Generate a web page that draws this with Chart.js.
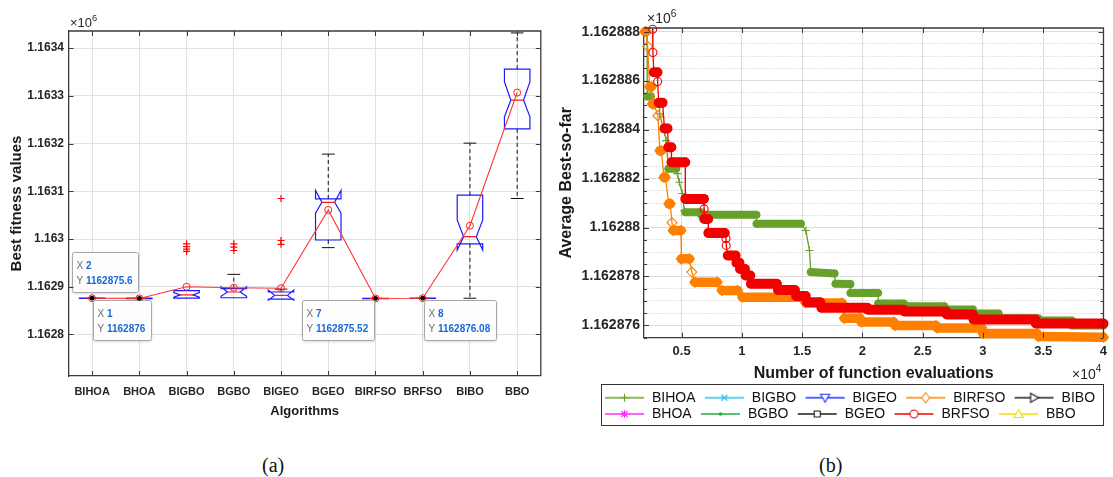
<!DOCTYPE html>
<html>
<head>
<meta charset="utf-8">
<title>Boxplot and convergence</title>
<script src="https://cdn.jsdelivr.net/npm/chart.js@4.4.1/dist/chart.umd.min.js"></script>
<style>
  html, body { margin: 0; padding: 0; background: #fff; }
  body { width: 1113px; height: 477px; position: relative; overflow: hidden; }
  .panel { position: absolute; top: 0; }
  #boxWrap { left: 0; width: 546px; height: 422px; }
  #convWrap { left: 555px; width: 558px; height: 431px; }
  .caption { position: absolute; top: 454px; line-height: 20px; font: 20px "Liberation Serif", "Times New Roman", serif; color: #111; }
</style>
</head>
<body>
<div class="panel" id="boxWrap"><canvas id="boxChart"></canvas></div>
<div class="panel" id="convWrap"><canvas id="convChart"></canvas></div>
<div class="caption" style="left:262px">(a)</div>
<div class="caption" style="left:819px">(b)</div>
<script>
const FONT = '"Liberation Sans", Arial, Helvetica, sans-serif';
Chart.defaults.font.family = FONT;
Chart.defaults.color = '#262626';
Chart.defaults.animation = false;

// ---------- panel (a): best fitness per algorithm ----------
const algorithms = ['BIHOA', 'BHOA', 'BIGBO', 'BGBO', 'BIGEO', 'BGEO', 'BIRFSO', 'BRFSO', 'BIBO', 'BBO'];
const boxQ1       = [1162875.5, 1162875.2, 1162876, 1162877, 1162874, 1162998, 1162875.2, 1162875.8, 1162990, 1163231];
const boxMedian   = [1162876, 1162875.6, 1162883, 1162889, 1162882, 1163077, 1162875.5, 1162876.1, 1163005, 1163291];
const boxQ3       = [1162876.5, 1162876, 1162892, 1162896, 1162889, 1163084, 1162875.8, 1162876.4, 1163092, 1163356];
const notchLow    = [1162876, 1162875.6, 1162878, 1162880, 1162872, 1163054, 1162875.5, 1162876.1, 1162977, 1163256];
const notchHigh   = [1162876, 1162875.6, 1162888, 1162900, 1162893, 1163102, 1162875.5, 1162876.1, 1163040, 1163330];
const whiskerLow  = [1162875.5, 1162875.2, 1162876, 1162876, 1162874, 1162982, 1162875.2, 1162875.8, 1162876, 1163085];
const whiskerHigh = [1162876.5, 1162876, 1162892, 1162926, 1162895, 1163178, 1162875.8, 1162876.4, 1163201, 1163432];
const meanFitness = [1162876, 1162875.6, 1162900, 1162898, 1162897, 1163061, 1162875.52, 1162876.08, 1163028, 1163307];
const outlierAlgorithms = ['BIGBO', 'BIGBO', 'BIGBO', 'BIGBO', 'BGBO', 'BGBO', 'BGBO', 'BIGEO', 'BIGEO', 'BIGEO'];
const outlierFitness = [1162990, 1162984, 1162979, 1162974, 1162990, 1162983, 1162976, 1163085, 1162997, 1162989];
const fitnessTicks = [1162800, 1162900, 1163000, 1163100, 1163200, 1163300, 1163400];
const tipAlgorithms = ['BIHOA', 'BHOA', 'BIRFSO', 'BRFSO'];
const tipFitness = [1162876, 1162875.6, 1162875.52, 1162876.08];
const tipPlacement = ['se', 'nw', 'sw', 'se'];

// ---------- panel (b): average best-so-far ----------
const bihoaEvals = [2130, 2150, 2450, 3170, 3170, 3580, 3720, 3900, 4550, 4650, 4810, 5060, 5220, 5300, 6600, 6620, 11200, 11220, 14900, 15310, 15610, 15720, 17690, 17770, 19000, 19010, 21300, 21310, 23430, 23440, 26800, 26810, 29170, 29180, 31300, 31310, 34590, 34600, 37380, 37390, 40000];
const bihoaBest = [1162888.0, 1162885.35, 1162885.35, 1162884.9, 1162884.65, 1162883.9, 1162883.55, 1162882.4, 1162882.4, 1162882.2, 1162881.85, 1162881.39, 1162880.69, 1162880.62, 1162880.62, 1162880.52, 1162880.52, 1162880.15, 1162880.15, 1162879.88, 1162879.06, 1162878.18, 1162878.12, 1162877.7, 1162877.69, 1162877.33, 1162877.33, 1162876.9, 1162876.9, 1162876.78, 1162876.78, 1162876.65, 1162876.65, 1162876.49, 1162876.49, 1162876.29, 1162876.29, 1162876.2, 1162876.2, 1162876.0, 1162876.0];
const birfsoEvals = [1960, 2060, 2180, 2350, 2500, 2580, 2700, 3030, 3200, 3330, 3530, 3650, 3940, 4060, 4200, 4300, 4950, 4980, 5650, 5850, 6100, 7950, 8350, 9650, 10050, 14900, 15300, 18300, 18500, 19800, 19900, 22600, 22700, 26100, 26200, 29900, 30000, 34500, 34600, 40000];
const birfsoBest = [1162888.0, 1162888.0, 1162887.4, 1162885.75, 1162885.75, 1162885.05, 1162885.05, 1162884.57, 1162883.14, 1162883.14, 1162882.05, 1162882.05, 1162880.97, 1162880.97, 1162880.2, 1162879.88, 1162879.88, 1162878.72, 1162878.72, 1162878.18, 1162877.77, 1162877.77, 1162877.43, 1162877.43, 1162877.15, 1162877.15, 1162876.92, 1162876.92, 1162876.29, 1162876.29, 1162876.14, 1162876.14, 1162876.0, 1162876.0, 1162875.9, 1162875.9, 1162875.67, 1162875.67, 1162875.55, 1162875.52];
const brfsoEvals = [2596, 2620, 2700, 3000, 3010, 3100, 3420, 3580, 3830, 3900, 4150, 4160, 5300, 5310, 6850, 6870, 6880, 7200, 7220, 8580, 8680, 8700, 8830, 9480, 9550, 9800, 9850, 10250, 10300, 10700, 10750, 12900, 13000, 14400, 14500, 15300, 15400, 16500, 16600, 20400, 20450, 23430, 23480, 26960, 27000, 29170, 29220, 34340, 34390, 40000];
const brfsoBest = [1162888.1, 1162887.15, 1162886.34, 1162886.34, 1162885.96, 1162885.1, 1162885.1, 1162884.05, 1162884.05, 1162883.28, 1162883.28, 1162882.67, 1162882.67, 1162881.17, 1162881.17, 1162880.76, 1162880.35, 1162880.35, 1162879.78, 1162879.78, 1162879.55, 1162879.27, 1162878.86, 1162878.86, 1162878.56, 1162878.56, 1162878.31, 1162878.31, 1162878.04, 1162878.04, 1162877.7, 1162877.7, 1162877.45, 1162877.45, 1162877.2, 1162877.2, 1162876.95, 1162876.95, 1162876.72, 1162876.72, 1162876.64, 1162876.64, 1162876.57, 1162876.57, 1162876.45, 1162876.45, 1162876.24, 1162876.24, 1162876.08, 1162876.08];
const evalTicks = [5000, 10000, 15000, 20000, 25000, 30000, 35000, 40000];
const bestTicks = [1162876, 1162878, 1162880, 1162882, 1162884, 1162886, 1162888];
const bestMinorStep = 0.5;

// legend order is row by row, like the two-row legend box
const legendOrder = ['BIHOA', 'BIGBO', 'BIGEO', 'BIRFSO', 'BIBO', 'BHOA', 'BGBO', 'BGEO', 'BRFSO', 'BBO'];
// the other seven curves sit above this zoomed window, so only their legend entries show
const seriesData = {
  BIHOA: [bihoaEvals, bihoaBest],
  BIRFSO: [birfsoEvals, birfsoBest],
  BRFSO: [brfsoEvals, brfsoBest]
};
const seriesStyle = {
  BIHOA:  { color: '#66a12a', marker: '+', band: 8, order: 2 },
  BIGBO:  { color: '#2cbde9', marker: 'x' },
  BIGEO:  { color: '#1c2cff', marker: 'v' },
  BIRFSO: { color: '#ff8000', marker: 'd', band: 9.5, order: 1 },
  BIBO:   { color: '#1e1e1e', marker: '>' },
  BHOA:   { color: '#ff2bff', marker: '*' },
  BGBO:   { color: '#1fae3c', marker: '.' },
  BGEO:   { color: '#1e1e1e', marker: 's' },
  BRFSO:  { color: '#f20000', marker: 'o', band: 10, order: 0 },
  BBO:    { color: '#f0e000', marker: '^' }
};

function drawPower(ctx, base, exp, x, y, size, align) {
  ctx.save();
  ctx.fillStyle = '#262626';
  ctx.textBaseline = 'alphabetic';
  ctx.textAlign = 'left';
  const big = size + 'px ' + FONT, small = (size * 0.72).toFixed(1) + 'px ' + FONT;
  ctx.font = big;
  const w1 = ctx.measureText(base).width;
  ctx.font = small;
  const w2 = ctx.measureText(exp).width;
  const x0 = align === 'right' ? x - w1 - w2 : x;
  ctx.font = big;
  ctx.fillText(base, x0, y);
  ctx.font = small;
  ctx.fillText(exp, x0 + w1, y - size * 0.45);
  ctx.restore();
}

// closed axes box with inward ticks, MATLAB style
function frameFor(opts) {
  return {
    id: 'frame',
    afterDraw(chart) {
      const { ctx, chartArea: a, scales: { x, y } } = chart;
      ctx.save();
      ctx.strokeStyle = '#3a3a3a';
      ctx.lineWidth = 1.3;
      ctx.beginPath();
      ctx.moveTo(a.left, a.top); ctx.lineTo(a.right, a.top); ctx.lineTo(a.right, a.bottom);
      ctx.stroke();
      ctx.lineWidth = 1;
      ctx.beginPath();
      x.ticks.forEach((t, i) => {
        const px = Math.round(x.getPixelForTick(i)) + 0.5;
        ctx.moveTo(px, a.top); ctx.lineTo(px, a.top + opts.tick);
        ctx.moveTo(px, a.bottom); ctx.lineTo(px, a.bottom - opts.tick);
      });
      y.ticks.forEach((t, i) => {
        const py = Math.round(y.getPixelForTick(i)) + 0.5;
        const len = t.minorTick ? opts.minor : opts.tick;
        ctx.moveTo(a.left, py); ctx.lineTo(a.left + len, py);
        ctx.moveTo(a.right, py); ctx.lineTo(a.right - len, py);
      });
      ctx.stroke();
      ctx.restore();
      opts.powers.forEach(p => {
        const px = p.side === 'right' ? a.right + p.dx : a.left + p.dx;
        const py = p.edge === 'bottom' ? a.bottom + p.dy : a.top + p.dy;
        drawPower(ctx, '\u00d710', p.exp, px, py, p.size, p.side);
      });
    }
  };
}

// notched boxes and whiskers, placed through the chart scales
const boxPlugin = {
  id: 'notchedBoxes',
  beforeDatasetsDraw(chart) {
    const { ctx, chartArea: a, scales: { x, y } } = chart;
    const step = x.getPixelForValue(1) - x.getPixelForValue(0);
    const half = step * 0.27, inset = half * 0.5, cap = half * 0.5;
    const py = v => y.getPixelForValue(v);
    ctx.save();
    ctx.beginPath(); ctx.rect(a.left, a.top, a.right - a.left, a.bottom - a.top); ctx.clip();
    algorithms.forEach((name, i) => {
      const cx = x.getPixelForValue(i);
      ctx.strokeStyle = '#111';
      ctx.lineWidth = 1;
      ctx.setLineDash([4, 3]);
      ctx.beginPath();
      if (whiskerHigh[i] > boxQ3[i]) { ctx.moveTo(cx, py(boxQ3[i])); ctx.lineTo(cx, py(whiskerHigh[i])); }
      if (whiskerLow[i] < boxQ1[i]) { ctx.moveTo(cx, py(boxQ1[i])); ctx.lineTo(cx, py(whiskerLow[i])); }
      ctx.stroke();
      ctx.setLineDash([]);
      ctx.beginPath();
      if (whiskerHigh[i] > boxQ3[i] + 1) { ctx.moveTo(cx - cap, py(whiskerHigh[i])); ctx.lineTo(cx + cap, py(whiskerHigh[i])); }
      if (whiskerLow[i] < boxQ1[i] - 1) { ctx.moveTo(cx - cap, py(whiskerLow[i])); ctx.lineTo(cx + cap, py(whiskerLow[i])); }
      ctx.stroke();

      const L = cx - half, R = cx + half;
      ctx.strokeStyle = '#1a1aff';
      ctx.lineWidth = 1.2;
      ctx.beginPath();
      ctx.moveTo(L, py(boxQ1[i]));
      ctx.lineTo(L, py(notchLow[i]));
      ctx.lineTo(L + inset, py(boxMedian[i]));
      ctx.lineTo(L, py(notchHigh[i]));
      ctx.lineTo(L, py(boxQ3[i]));
      ctx.lineTo(R, py(boxQ3[i]));
      ctx.lineTo(R, py(notchHigh[i]));
      ctx.lineTo(R - inset, py(boxMedian[i]));
      ctx.lineTo(R, py(notchLow[i]));
      ctx.lineTo(R, py(boxQ1[i]));
      ctx.closePath();
      ctx.stroke();

      ctx.strokeStyle = '#ff1a1a';
      ctx.beginPath();
      ctx.moveTo(L + inset, py(boxMedian[i])); ctx.lineTo(R - inset, py(boxMedian[i]));
      ctx.stroke();
    });
    ctx.restore();
  }
};

const tipPlugin = {
  id: 'dataTips',
  afterDatasetsDraw(chart) {
    const { ctx, scales: { x, y } } = chart;
    const normal = '10px ' + FONT, bold = 'bold 10px ' + FONT;
    ctx.save();
    tipAlgorithms.forEach((name, k) => {
      const idx = algorithms.indexOf(name);
      const px = x.getPixelForValue(idx), py = y.getPixelForValue(tipFitness[k]);
      ctx.fillStyle = '#000';
      ctx.beginPath(); ctx.arc(px, py, 2.4, 0, Math.PI * 2); ctx.fill();
      const rows = [['X', String(idx + 1)], ['Y', String(tipFitness[k])]];
      ctx.font = normal;
      const keyW = ctx.measureText('X ').width;
      ctx.font = bold;
      const valW = Math.max(...rows.map(r => ctx.measureText(r[1]).width));
      const w = Math.round(4 + keyW + valW + 6), h = 40;
      const place = tipPlacement[k];
      const bx = Math.round(place.includes('e') ? px + 1 : px - 1 - w) + 0.5;
      const by = Math.round(place.includes('s') ? py + 2 : py - 6 - h) + 0.5;
      ctx.shadowColor = 'rgba(0,0,0,0.2)'; ctx.shadowBlur = 3; ctx.shadowOffsetY = 1;
      ctx.fillStyle = 'rgba(255,255,255,0.96)';
      ctx.beginPath(); ctx.roundRect(bx, by, w, h, 2); ctx.fill();
      ctx.shadowColor = 'transparent';
      ctx.strokeStyle = '#a8a8a8'; ctx.lineWidth = 1;
      ctx.stroke();
      ctx.textBaseline = 'middle';
      rows.forEach((r, j) => {
        const ty = by + 13.5 + j * 15.5;
        ctx.font = normal; ctx.fillStyle = '#6e6e6e';
        ctx.fillText(r[0], bx + 4, ty);
        ctx.font = bold; ctx.fillStyle = '#1769d8';
        ctx.fillText(r[1], bx + 4 + keyW, ty);
      });
    });
    ctx.restore();
  }
};

new Chart(document.getElementById('boxChart'), {
  type: 'line',
  data: {
    labels: algorithms,
    datasets: [
      {
        label: 'Mean',
        data: meanFitness,
        borderColor: '#ff3434',
        borderWidth: 1.1,
        pointStyle: 'circle',
        pointRadius: 3.5,
        pointBorderColor: '#ff2020',
        pointBackgroundColor: 'rgba(255,255,255,0)',
        pointBorderWidth: 1,
        order: 1
      },
      {
        label: 'Outliers',
        data: outlierAlgorithms.map((a, k) => ({ x: a, y: outlierFitness[k] })),
        showLine: false,
        pointStyle: 'cross',
        pointRadius: 3.5,
        pointBorderColor: '#ff0000',
        pointBorderWidth: 1.2,
        order: 0
      }
    ]
  },
  options: {
    responsive: true,
    maintainAspectRatio: false,
    events: [],
    layout: { padding: { top: 31, right: 2.5, bottom: 0, left: 0 } },
    plugins: { legend: { display: false }, tooltip: { enabled: false } },
    scales: {
      x: {
        type: 'category',
        offset: true,
        grid: { color: '#e1e1e1', offset: false, drawTicks: false },
        border: { color: '#3a3a3a', width: 1.3 },
        ticks: { font: { size: 11, weight: 'bold' }, padding: 9.1, autoSkip: false, maxRotation: 0 },
        title: { display: true, text: 'Algorithms', color: '#1a1a1a', font: { size: 13, weight: 'bold' }, padding: { top: 0, bottom: 2.5 } },
        afterFit: s => { s.height = 46; }
      },
      y: {
        min: 1162713,
        max: 1163436,
        afterBuildTicks: s => { s.ticks = fitnessTicks.map(v => ({ value: v })); },
        grid: { color: '#e1e1e1', drawTicks: false },
        border: { color: '#3a3a3a', width: 1.3 },
        ticks: { font: { size: 12, weight: 'bold' }, padding: 4.5, callback: v => String(parseFloat((v / 1e6).toFixed(4))) },
        title: { display: true, text: 'Best fitness values', color: '#1a1a1a', font: { size: 15, weight: 'bold' }, padding: { top: 8, bottom: 0 } },
        afterFit: s => { s.width = 68.5; }
      }
    }
  },
  plugins: [boxPlugin, tipPlugin, frameFor({ tick: 5, minor: 5, powers: [{ exp: '6', side: 'left', edge: 'top', dx: 1.5, dy: -4, size: 13 }] })]
});

// legend icon: short line with the series marker in the middle
function legendIcon(color, marker) {
  const c = document.createElement('canvas');
  c.width = 47; c.height = 14;
  const g = c.getContext('2d');
  g.strokeStyle = color; g.lineWidth = 1.3;
  g.beginPath(); g.moveTo(7, 7); g.lineTo(46, 7); g.stroke();
  const cx = 26.5, cy = 7, r = 4;
  g.fillStyle = '#fff';
  g.lineWidth = 1.1;
  g.beginPath();
  if (marker === '.') {
    g.fillStyle = color; g.arc(cx, cy, 1.8, 0, Math.PI * 2); g.fill();
    return c;
  }
  if (marker === '+' || marker === '*') { g.moveTo(cx - r, cy); g.lineTo(cx + r, cy); g.moveTo(cx, cy - r); g.lineTo(cx, cy + r); }
  if (marker === 'x' || marker === '*') { const d = r * 0.75; g.moveTo(cx - d, cy - d); g.lineTo(cx + d, cy + d); g.moveTo(cx + d, cy - d); g.lineTo(cx - d, cy + d); }
  if (marker === 'o') { g.arc(cx, cy, r, 0, Math.PI * 2); g.fill(); }
  if (marker === 'd') { g.moveTo(cx, cy - 5); g.lineTo(cx + 4, cy); g.lineTo(cx, cy + 5); g.lineTo(cx - 4, cy); g.closePath(); g.fill(); }
  if (marker === 's') { g.rect(cx - 3, cy - 3, 6, 6); g.fill(); }
  if (marker === '^') { g.moveTo(cx, cy - 4.5); g.lineTo(cx + 4.5, cy + 3.5); g.lineTo(cx - 4.5, cy + 3.5); g.closePath(); g.fill(); }
  if (marker === 'v') { g.moveTo(cx, cy + 4.5); g.lineTo(cx + 4.5, cy - 3.5); g.lineTo(cx - 4.5, cy - 3.5); g.closePath(); g.fill(); }
  if (marker === '>') { g.moveTo(cx + 4.5, cy); g.lineTo(cx - 3.5, cy - 4.5); g.lineTo(cx - 3.5, cy + 4.5); g.closePath(); g.fill(); }
  g.stroke();
  return c;
}
const legendIcons = legendOrder.map(name => legendIcon(seriesStyle[name].color, seriesStyle[name].marker));

const chartPointStyle = { '+': 'cross', 'o': 'circle', 'd': 'rectRot', 'x': 'crossRot', 's': 'rect', '^': 'triangle', 'v': 'triangle', '>': 'triangle', '*': 'star', '.': 'circle' };
const isRun = c => {
  const dx = Math.abs(c.p1.x - c.p0.x), dy = Math.abs(c.p1.y - c.p0.y);
  return dy < 1.5 || dx > 3 * dy;
};

const convDatasets = legendOrder.map(name => {
  const st = seriesStyle[name];
  const pair = seriesData[name];
  const points = pair ? pair[0].map((e, k) => ({ x: e, y: pair[1][k] })) : [];
  return {
    label: name,
    data: points,
    borderColor: st.color,
    backgroundColor: st.color,
    borderWidth: 1.3,
    borderCapStyle: 'round',
    borderJoinStyle: 'round',
    segment: { borderWidth: c => (isRun(c) ? st.band : 1.3) },
    pointStyle: chartPointStyle[st.marker],
    pointRadius: st.marker === 'd' ? 5 : 4,
    pointBorderColor: st.color,
    pointBackgroundColor: 'rgba(255,255,255,0)',
    pointBorderWidth: 1.1,
    clip: false,
    order: st.order === undefined ? 3 : st.order
  };
});

const legendBoxPlugin = {
  id: 'legendBox',
  afterLayout(chart) {
    // line the legend up under the plot like the reference figure
    chart.legend.left += 40.7;
    chart.legend.right += 40.7;
  },
  afterDraw(chart) {
    const boxes = chart.legend.legendHitBoxes;
    if (!boxes || !boxes.length) return;
    const l = Math.min(...boxes.map(b => b.left)) + 3;
    const r = Math.max(...boxes.map(b => b.left + b.width)) + 8;
    const t = Math.min(...boxes.map(b => b.top)) - 7;
    const btm = Math.max(...boxes.map(b => b.top + b.height)) + 4;
    const ctx = chart.ctx;
    ctx.save();
    ctx.strokeStyle = '#333';
    ctx.lineWidth = 1;
    ctx.strokeRect(Math.round(l) + 0.5, Math.round(t) + 0.5, Math.round(r - l), Math.round(btm - t));
    ctx.restore();
  }
};

new Chart(document.getElementById('convChart'), {
  type: 'line',
  data: { datasets: convDatasets },
  options: {
    responsive: true,
    maintainAspectRatio: false,
    events: [],
    layout: { padding: { top: 28, right: 4, bottom: 0, left: 0 } },
    plugins: {
      tooltip: { enabled: false },
      legend: {
        position: 'bottom',
        align: 'start',
        labels: {
          usePointStyle: true,
          pointStyleWidth: 47,
          boxHeight: 14,
          padding: 2.3,
          color: '#111',
          font: { size: 14 },
          generateLabels: chart => Chart.defaults.plugins.legend.labels.generateLabels(chart)
            .map(it => Object.assign(it, { pointStyle: legendIcons[it.datasetIndex] })),
          sort: (a, b) => a.datasetIndex - b.datasetIndex
        }
      }
    },
    scales: {
      x: {
        type: 'linear',
        min: 1880,
        max: 40000,
        afterBuildTicks: s => { s.ticks = evalTicks.map(v => ({ value: v })); },
        grid: { color: '#dcdcdc', drawTicks: false },
        border: { color: '#3a3a3a', width: 1.3 },
        ticks: { font: { size: 13, weight: 'bold' }, padding: 5.9, maxRotation: 0, callback: v => String(v / 1e4) },
        title: { display: true, text: 'Number of function evaluations', color: '#1a1a1a', font: { size: 16, weight: 'bold' }, padding: { top: 0, bottom: 5.1 } },
        afterFit: s => { s.height = 50.7; }
      },
      y: {
        min: 1162875.5,
        max: 1162888.15,
        afterBuildTicks: s => {
          const ticks = [];
          for (let v = bestTicks[0] - bestMinorStep; v <= s.max; v += bestMinorStep) {
            ticks.push({ value: v, minorTick: !bestTicks.includes(v) });
          }
          s.ticks = ticks;
        },
        grid: { color: c => (c.tick && c.tick.minorTick ? '#c8c8c8' : '#dcdcdc'), drawTicks: false },
        border: { color: '#3a3a3a', width: 1.3, dash: c => (c.tick && c.tick.minorTick ? [1, 2] : []) },
        ticks: {
          autoSkip: false,
          font: { size: 14, weight: 'bold' },
          padding: 4,
          callback: (v, i, ticks) => (ticks[i].minorTick ? '' : (v / 1e6).toFixed(6).replace(/0+$/, ''))
        },
        title: { display: true, text: 'Average Best-so-far', color: '#1a1a1a', font: { size: 16, weight: 'bold' }, padding: { top: 2.4, bottom: 0 } },
        afterFit: s => { s.width = 89; }
      }
    }
  },
  plugins: [legendBoxPlugin, frameFor({
    tick: 5, minor: 3,
    powers: [
      { exp: '6', side: 'left', edge: 'top', dx: 3, dy: -5, size: 14 },
      { exp: '4', side: 'right', edge: 'bottom', dx: -2, dy: 41, size: 14 }
    ]
  })]
});
</script>
</body>
</html>
